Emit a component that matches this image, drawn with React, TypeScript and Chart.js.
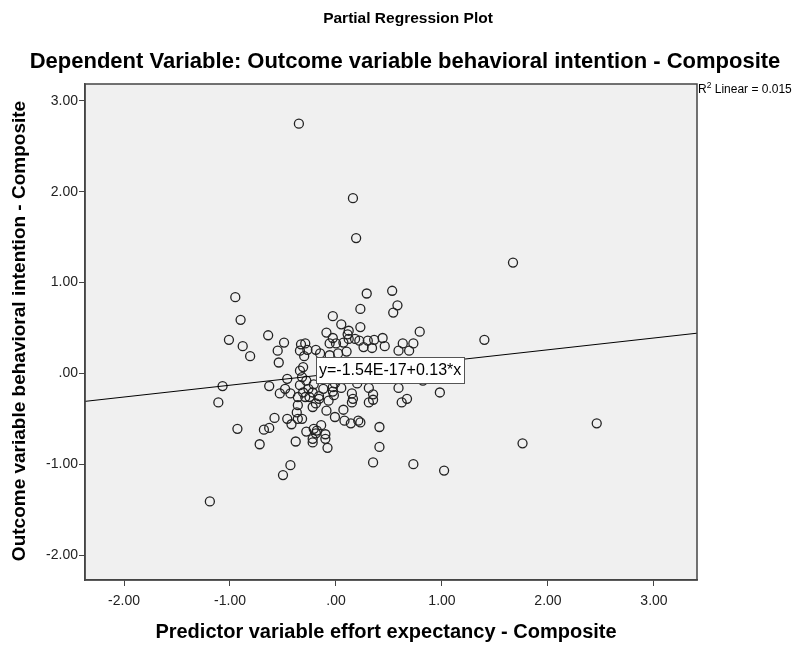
import React, { useEffect, useRef } from 'react';
import { Chart, registerables } from 'chart.js';

Chart.register(...registerables);

// ---- data (residuals) ----
const residualX = [
  -0.35, 0.16, 0.19, 1.67, 1.40, 2.46, 1.76, 1.02, 0.73, 0.35, -1.19, -0.50, -0.43, 0.53, 0.29, 0.58, 0.54, 0.23, 0.79, 0.98, 0.41, 0.41, 0.23, -0.08,
  -0.95, -0.90, -1.01, -0.88, -0.81, -0.64, -0.55, -0.54, -1.07, -1.11, -0.63, -0.53, -0.58, -0.93, -0.68, -0.63, -0.72, -0.49,
  -0.33, -0.29, -0.27, -0.19, -0.30, -0.31, -0.46, -0.48, -0.43, -0.36, -0.36, -0.32, -0.28, -0.34, -0.26, -0.29, -0.37, -0.36, -0.32, -0.46, -0.42, -0.38, -0.34, -0.31, -0.25, -0.22, -0.34,
  -0.28, -0.22, -0.22, -0.18, -0.14, -0.10, -0.10, -0.09, -0.01, -0.22, -0.19, -0.16, -0.12, -0.03, 0.07, 0.08, 0.14, 0.15, 0.21, -0.03, 0.05, -0.21, 0.31, 0.59, 0.15, 0.16, 0.35, 0.35, 0.31, 0.67, 0.62, -0.16, -0.07, -0.02, 0.82, 0.20, -0.21, -0.19, 0.54, -0.01,
  -0.03, 0.05, 0.23, -0.09, 0.12, 0.11, -0.03, -0.06, 0.00, 0.07, 0.18, 0.22, 0.30, 0.36, 0.44, 0.26, 0.34, 0.46, 0.63, 0.73, 0.59, 0.69, 0.12, -0.15, 0.02, 0.10, -0.06,
];
const residualY = [
  2.75, 1.93, 1.49, 1.22, 0.37, -0.55, -0.77, -1.07, -1.00, -0.98, -1.41, -1.12, -1.01, 0.91, 0.88, 0.75, 0.67, 0.71, 0.46, -0.21, -0.59, -0.81, -0.54, -0.82,
  0.84, 0.59, 0.37, 0.30, 0.19, 0.42, 0.25, 0.12, -0.14, -0.32, -0.14, -0.22, -0.49, -0.61, -0.62, -0.60, -0.78, 0.34,
  0.32, 0.33, 0.26, 0.26, 0.19, 0.07, -0.06, -0.17, -0.22, -0.26, -0.35, -0.04, -0.08, 0.03, -0.17, -0.26, -0.43, -0.50, -0.50, -0.50, -0.56, -0.75, -0.13, -0.21, -0.26, -0.21, 0.25,
  -0.64, -0.72, -0.76, -0.63, -0.57, -0.67, -0.72, -0.41, -0.48, -0.37, -0.33, -0.25, -0.17, -0.20, -0.40, -0.52, -0.55, -0.32, -0.52, -0.15, -0.16, -0.12, -0.16, -0.16, -0.22, -0.28, -0.23, -0.29, -0.32, -0.28, -0.32, -0.28, -0.30, -0.24, -0.08, -0.11, -0.61, -0.66, -0.06, -0.11,
  0.63, 0.54, 0.51, 0.45, 0.47, 0.43, 0.39, 0.33, 0.33, 0.34, 0.38, 0.36, 0.36, 0.37, 0.39, 0.29, 0.28, 0.30, 0.33, 0.33, 0.25, 0.25, 0.38, 0.22, 0.22, 0.24, 0.20,
];

const xTickValues = [-2, -1, 0, 1, 2, 3];
const xTickLabels = ['-2.00', '-1.00', '.00', '1.00', '2.00', '3.00'];
const yTickValues = [-2, -1, 0, 1, 2, 3];
const yTickLabels = ['-2.00', '-1.00', '.00', '1.00', '2.00', '3.00'];

const xRange = [-2.368, 3.406];
const yRange = [-2.275, 3.187];

const fitIntercept = -1.54e-17;
const fitSlope = 0.13;
const rSquaredText = '0.015';
const equationText = 'y=-1.54E-17+0.13*x';
const equationAnchor = [-0.19, 0.035];

const titleText = 'Partial Regression Plot';
const subtitleText = 'Dependent Variable: Outcome variable behavioral intention - Composite';
const xAxisTitle = 'Predictor variable effort expectancy - Composite';
const yAxisTitle = 'Outcome variable behavioral intention - Composite';

const FONT = '"Liberation Sans", Arial, sans-serif';

const decorPlugin = {
  id: 'decor',
  beforeDraw(chart: any) {
    const { ctx, chartArea: a } = chart;
    ctx.save();
    ctx.fillStyle = '#ffffff';
    ctx.fillRect(0, 0, chart.width, chart.height);
    ctx.fillStyle = '#f0f0f0';
    ctx.fillRect(a.left, a.top, a.right - a.left, a.bottom - a.top);
    ctx.restore();
  },
  afterDatasetsDraw(chart: any) {
    const { ctx } = chart;
    const xs = chart.scales.x;
    const ys = chart.scales.y;
    const px = Math.round(xs.getPixelForValue(equationAnchor[0]));
    const py = Math.round(ys.getPixelForValue(equationAnchor[1]));
    ctx.save();
    ctx.font = `16px ${FONT}`;
    const w = Math.round(ctx.measureText(equationText).width + 6);
    const h = 26;
    ctx.fillStyle = '#ffffff';
    ctx.fillRect(px, py - h / 2, w, h);
    ctx.strokeStyle = '#555';
    ctx.lineWidth = 1;
    ctx.strokeRect(px + 0.5, py - h / 2 + 0.5, w, h);
    ctx.fillStyle = '#000';
    ctx.textBaseline = 'middle';
    ctx.textAlign = 'left';
    ctx.fillText(equationText, px + 3, py + 1);
    ctx.restore();
  },
  afterDraw(chart: any) {
    const { ctx, chartArea: a } = chart;
    ctx.save();
    // plot frame
    ctx.strokeStyle = '#444';
    ctx.lineWidth = 1.5;
    ctx.strokeRect(a.left, a.top, a.right - a.left, a.bottom - a.top);

    ctx.fillStyle = '#000';
    ctx.textAlign = 'center';
    ctx.textBaseline = 'middle';
    ctx.font = `bold 15.5px ${FONT}`;
    ctx.fillText(titleText, 408, 19);
    ctx.font = `bold 22px ${FONT}`;
    ctx.fillText(subtitleText, 405, 62);
    ctx.font = `bold 20px ${FONT}`;
    ctx.fillText(xAxisTitle, 386, 632);
    ctx.save();
    ctx.translate(20, 331);
    ctx.rotate(-Math.PI / 2);
    ctx.font = `bold 19px ${FONT}`;
    ctx.fillText(yAxisTitle, 0, 0);
    ctx.restore();

    // R² label
    ctx.textAlign = 'left';
    ctx.textBaseline = 'alphabetic';
    let x = a.right + 1;
    const base = a.top + 9;
    ctx.font = `12px ${FONT}`;
    ctx.fillText('R', x, base);
    x += ctx.measureText('R').width;
    ctx.font = `8.5px ${FONT}`;
    ctx.fillText('2', x, base - 5);
    x += ctx.measureText('2').width;
    ctx.font = `12px ${FONT}`;
    ctx.fillText(' Linear = ' + rSquaredText, x, base);
    ctx.restore();
  },
};

export default function App() {
  const ref = useRef<HTMLCanvasElement | null>(null);

  useEffect(() => {
    const canvas = ref.current;
    if (!canvas) return;
    const points = residualX.map((x, i) => ({ x, y: residualY[i] }));
    const fitLine = [
      { x: xRange[0], y: fitIntercept + fitSlope * xRange[0] },
      { x: xRange[1], y: fitIntercept + fitSlope * xRange[1] },
    ];
    const tickFont = { family: FONT, size: 14 };
    const chart = new Chart(canvas, {
      type: 'scatter',
      data: {
        datasets: [
          {
            type: 'line',
            data: fitLine,
            borderColor: '#000',
            borderWidth: 1,
            pointRadius: 0,
            fill: false,
          } as any,
          {
            type: 'scatter',
            data: points,
            pointStyle: 'circle',
            pointRadius: 4.5,
            pointBorderWidth: 1.3,
            pointBackgroundColor: 'rgba(0,0,0,0)',
            pointBorderColor: '#222',
            borderColor: '#222',
            backgroundColor: 'rgba(0,0,0,0)',
          } as any,
        ],
      },
      options: {
        animation: false,
        responsive: false,
        devicePixelRatio: 1,
        layout: { padding: { top: 84, right: 115, bottom: 0, left: 0 } },
        plugins: {
          legend: { display: false },
          tooltip: { enabled: false },
          title: { display: false },
        },
        scales: {
          x: {
            type: 'linear',
            min: xRange[0],
            max: xRange[1],
            afterBuildTicks: (s: any) => {
              s.ticks = xTickValues.map((v) => ({ value: v }));
            },
            afterFit: (s: any) => {
              s.height = 66;
            },
            ticks: {
              callback: (v: any) => xTickLabels[xTickValues.indexOf(Number(v))],
              font: tickFont,
              color: '#222',
              padding: 7,
              maxRotation: 0,
              autoSkip: false,
            },
            grid: { drawOnChartArea: false, drawTicks: true, tickLength: 6, color: '#444', lineWidth: 1 },
            border: { display: true, color: '#444', width: 1.5 },
          },
          y: {
            type: 'linear',
            min: yRange[0],
            max: yRange[1],
            afterBuildTicks: (s: any) => {
              s.ticks = yTickValues.map((v) => ({ value: v }));
            },
            afterFit: (s: any) => {
              s.width = 85;
            },
            ticks: {
              callback: (v: any) => yTickLabels[yTickValues.indexOf(Number(v))],
              font: tickFont,
              color: '#222',
              padding: 1,
              autoSkip: false,
            },
            grid: { drawOnChartArea: false, drawTicks: true, tickLength: 6, color: '#444', lineWidth: 1 },
            border: { display: true, color: '#444', width: 1.5 },
          },
        },
      } as any,
      plugins: [decorPlugin],
    });
    return () => chart.destroy();
  }, []);

  return (
    <div style={{ position: 'fixed', left: 0, top: 0, width: 812, height: 646, background: '#fff' }}>
      <canvas ref={ref} width={812} height={646} style={{ display: 'block', width: 812, height: 646 }} />
    </div>
  );
}
